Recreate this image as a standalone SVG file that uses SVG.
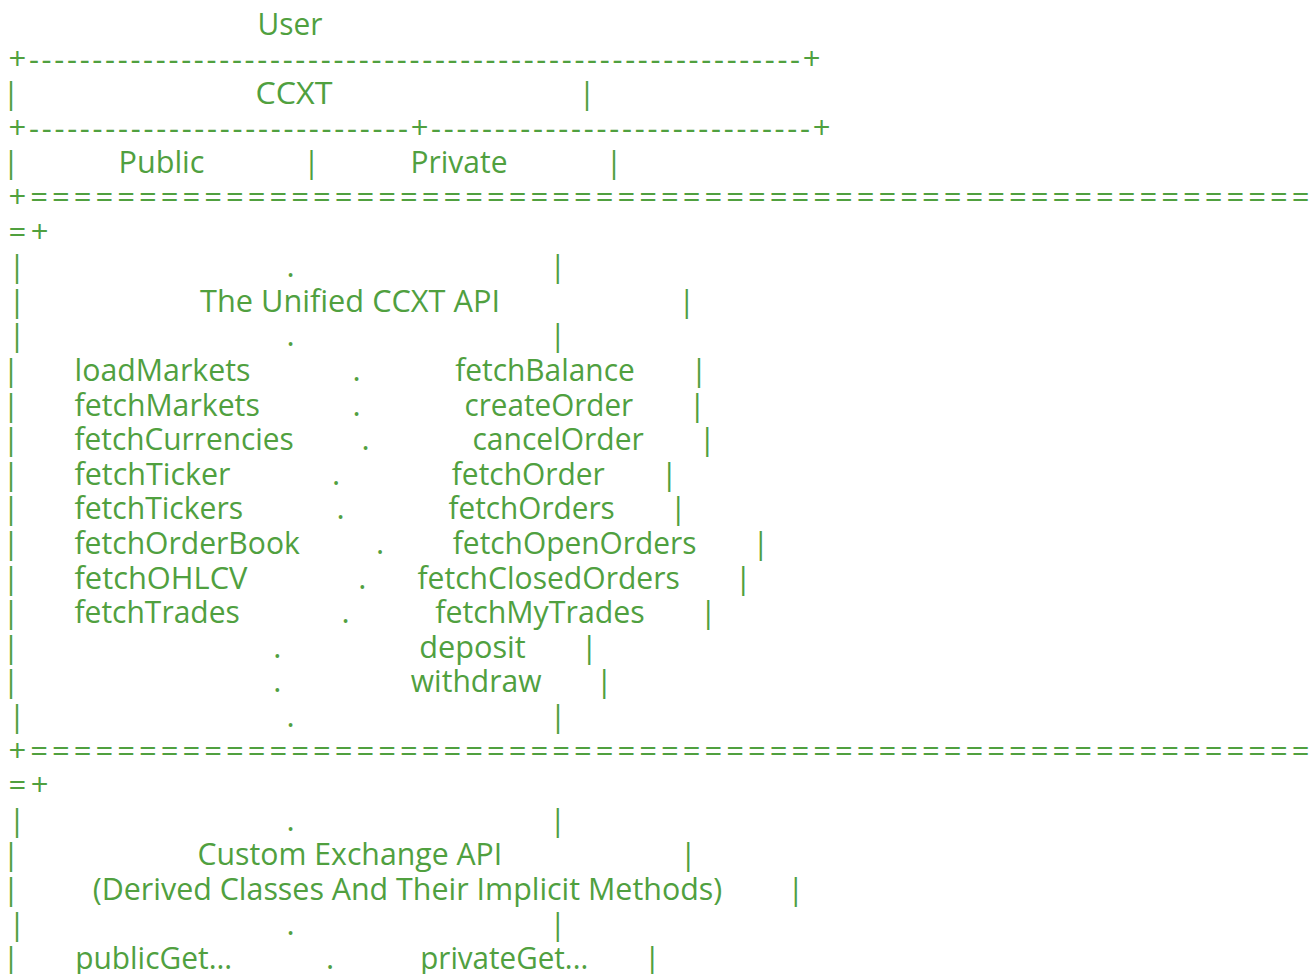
<svg xmlns="http://www.w3.org/2000/svg" width="1310" height="974" viewBox="0 0 1310 974">
<style>
text{font-family:"Open Sans","Noto Sans","DejaVu Sans",sans-serif;font-size:31px;fill:#50a03f}
.c{text-anchor:middle}
</style>
<rect width="1310" height="974" fill="#ffffff"/>
<g transform="translate(0,1)">
<g id="user">
<text x="257.5" y="34" textLength="65" lengthAdjust="spacingAndGlyphs">User</text>
</g>
<g id="rules">
<text x="8.5" y="68.6" textLength="812" lengthAdjust="spacing">+-------------------------------------------------------------+</text>
<text x="8.5" y="137.8" textLength="822" lengthAdjust="spacing">+------------------------------+------------------------------+</text>
<text x="8.5" y="207" textLength="1301" lengthAdjust="spacing">+===========================================================</text>
<text x="8.5" y="241.6" textLength="40" lengthAdjust="spacing">=+</text>
<text x="8.5" y="760.6" textLength="1301" lengthAdjust="spacing">+===========================================================</text>
<text x="8.5" y="795.2" textLength="40" lengthAdjust="spacing">=+</text>
</g>
<g id="ccxt">
<text class="c" x="11" y="103.2">|</text>
<text x="255.5" y="103.2" textLength="77" lengthAdjust="spacingAndGlyphs">CCXT</text>
<text class="c" x="587" y="103.2">|</text>
</g>
<g id="public-private">
<text class="c" x="11" y="172.4">|</text>
<text x="118.5" y="172.4" textLength="86" lengthAdjust="spacingAndGlyphs">Public</text>
<text class="c" x="311.5" y="172.4">|</text>
<text x="410.5" y="172.4" textLength="97" lengthAdjust="spacingAndGlyphs">Private</text>
<text class="c" x="614" y="172.4">|</text>
</g>
<g id="unified-api">
<text class="c" x="17" y="276.2">|</text>
<text class="c" x="290.7" y="276.2">.</text>
<text class="c" x="557.7" y="276.2">|</text>
<text class="c" x="17" y="310.8">|</text>
<text x="200" y="310.8" textLength="300" lengthAdjust="spacingAndGlyphs">The Unified CCXT API</text>
<text class="c" x="686.7" y="310.8">|</text>
<text class="c" x="17" y="345.4">|</text>
<text class="c" x="290.7" y="345.4">.</text>
<text class="c" x="557.7" y="345.4">|</text>

<text class="c" x="11" y="380">|</text>
<text x="74.5" y="380" textLength="176" lengthAdjust="spacingAndGlyphs">loadMarkets</text>
<text class="c" x="356.7" y="380">.</text>
<text x="455.2" y="380" textLength="179.6" lengthAdjust="spacingAndGlyphs">fetchBalance</text>
<text class="c" x="699" y="380">|</text>

<text class="c" x="11" y="414.6">|</text>
<text x="74.5" y="414.6" textLength="185.3" lengthAdjust="spacingAndGlyphs">fetchMarkets</text>
<text class="c" x="356.7" y="414.6">.</text>
<text x="464.5" y="414.6" textLength="168.7" lengthAdjust="spacingAndGlyphs">createOrder</text>
<text class="c" x="697.3" y="414.6">|</text>

<text class="c" x="11" y="449.2">|</text>
<text x="74.5" y="449.2" textLength="219.3" lengthAdjust="spacingAndGlyphs">fetchCurrencies</text>
<text class="c" x="365.7" y="449.2">.</text>
<text x="472.5" y="449.2" textLength="171.3" lengthAdjust="spacingAndGlyphs">cancelOrder</text>
<text class="c" x="707.3" y="449.2">|</text>

<text class="c" x="11" y="483.8">|</text>
<text x="74.5" y="483.8" textLength="156" lengthAdjust="spacingAndGlyphs">fetchTicker</text>
<text class="c" x="336" y="483.8">.</text>
<text x="451.8" y="483.8" textLength="153" lengthAdjust="spacingAndGlyphs">fetchOrder</text>
<text class="c" x="669.3" y="483.8">|</text>

<text class="c" x="11" y="518.4">|</text>
<text x="74.5" y="518.4" textLength="168.7" lengthAdjust="spacingAndGlyphs">fetchTickers</text>
<text class="c" x="340.7" y="518.4">.</text>
<text x="448.5" y="518.4" textLength="166.3" lengthAdjust="spacingAndGlyphs">fetchOrders</text>
<text class="c" x="678.3" y="518.4">|</text>

<text class="c" x="11" y="553">|</text>
<text x="74.5" y="553" textLength="225.3" lengthAdjust="spacingAndGlyphs">fetchOrderBook</text>
<text class="c" x="380" y="553">.</text>
<text x="452.8" y="553" textLength="243.7" lengthAdjust="spacingAndGlyphs">fetchOpenOrders</text>
<text class="c" x="760.7" y="553">|</text>

<text class="c" x="11" y="587.6">|</text>
<text x="74.5" y="587.6" textLength="173" lengthAdjust="spacingAndGlyphs">fetchOHLCV</text>
<text class="c" x="362.3" y="587.6">.</text>
<text x="417.5" y="587.6" textLength="262.3" lengthAdjust="spacingAndGlyphs">fetchClosedOrders</text>
<text class="c" x="743.3" y="587.6">|</text>

<text class="c" x="11" y="622.2">|</text>
<text x="74.5" y="622.2" textLength="165.3" lengthAdjust="spacingAndGlyphs">fetchTrades</text>
<text class="c" x="345.7" y="622.2">.</text>
<text x="435.2" y="622.2" textLength="209.6" lengthAdjust="spacingAndGlyphs">fetchMyTrades</text>
<text class="c" x="708.3" y="622.2">|</text>

<text class="c" x="11" y="656.8">|</text>
<text class="c" x="277.3" y="656.8">.</text>
<text x="419.2" y="656.8" textLength="106.6" lengthAdjust="spacingAndGlyphs">deposit</text>
<text class="c" x="589.3" y="656.8">|</text>

<text class="c" x="11" y="691.4">|</text>
<text class="c" x="277.3" y="691.4">.</text>
<text x="410.8" y="691.4" textLength="130.7" lengthAdjust="spacingAndGlyphs">withdraw</text>
<text class="c" x="604.3" y="691.4">|</text>

<text class="c" x="17" y="726">|</text>
<text class="c" x="290.7" y="726">.</text>
<text class="c" x="558" y="726">|</text>
</g>
<g id="custom-api">
<text class="c" x="17" y="829.8">|</text>
<text class="c" x="290.7" y="829.8">.</text>
<text class="c" x="557.7" y="829.8">|</text>

<text class="c" x="11" y="864.4">|</text>
<text x="197.5" y="864.4" textLength="304.7" lengthAdjust="spacingAndGlyphs">Custom Exchange API</text>
<text class="c" x="688.3" y="864.4">|</text>

<text class="c" x="11" y="899">|</text>
<text x="92.8" y="899" textLength="629.4" lengthAdjust="spacingAndGlyphs">(Derived Classes And Their Implicit Methods)</text>
<text class="c" x="795.7" y="899">|</text>

<text class="c" x="17" y="933.6">|</text>
<text class="c" x="290.7" y="933.6">.</text>
<text class="c" x="557.7" y="933.6">|</text>

<text class="c" x="11" y="968.2">|</text>
<text x="75.2" y="968.2" textLength="157" lengthAdjust="spacingAndGlyphs">publicGet...</text>
<text class="c" x="330" y="968.2">.</text>
<text x="420.2" y="968.2" textLength="168" lengthAdjust="spacingAndGlyphs">privateGet...</text>
<text class="c" x="652.3" y="968.2">|</text>
</g>
</g>
</svg>
